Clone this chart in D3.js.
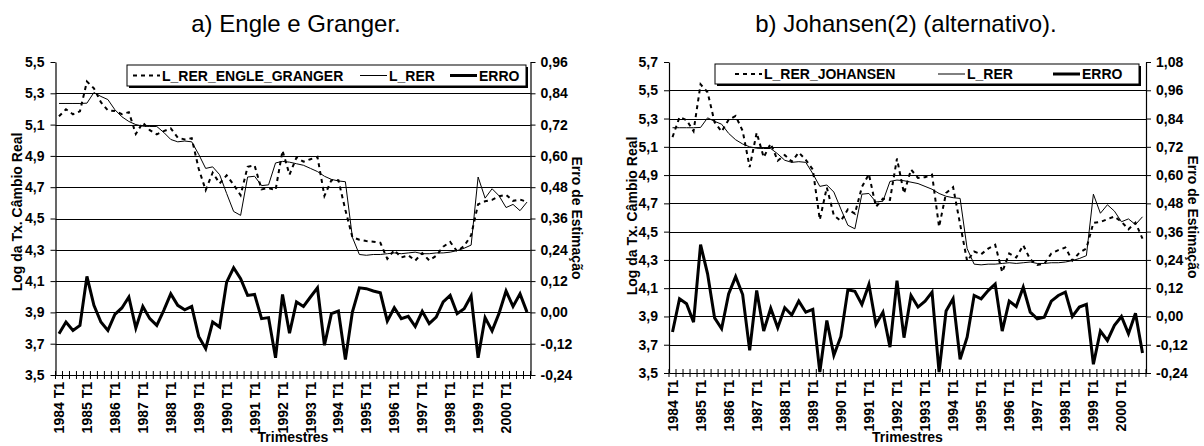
<!DOCTYPE html>
<html>
<head>
<meta charset="utf-8">
<script src="https://cdn.jsdelivr.net/npm/d3@7"></script>
<style>
  body { margin: 0; background: #fff; }
  text { font-family: "Liberation Sans", Arial, sans-serif; }
</style>
</head>
<body>
<script>
// window size
var width = 1204,
    height = 446;

// categories: quarters 1984 T1 .. 2000 T4
var years = [1984, 1985, 1986, 1987, 1988, 1989, 1990, 1991, 1992,
             1993, 1994, 1995, 1996, 1997, 1998, 1999, 2000];
var quarterNames = ["T1", "T2", "T3", "T4"];
var categories = years.flatMap(function (y) {
    return quarterNames.map(function (q) { return y + " " + q; });
});

// labelled categories on the x axis
var xLabels = ["1984 T1", "1985 T1", "1986 T1", "1987 T1", "1988 T1", "1989 T1",
               "1990 T1", "1991 T1", "1992 T1", "1993 T1", "1994 T1", "1995 T1",
               "1996 T1", "1997 T1", "1998 T1", "1999 T1", "2000 T1"];

// log of the real exchange rate (same in both panels)
var lRer = [5.235, 5.235, 5.235, 5.235, 5.237, 5.305, 5.28, 5.26, 5.195, 5.15,
            5.12, 5.10, 5.09, 5.088, 5.088, 5.05, 5.005, 4.99, 4.995, 4.99,
            4.91, 4.82, 4.83, 4.78, 4.66, 4.545, 4.52, 4.765, 4.77, 4.71,
            4.715, 4.855, 4.865, 4.86, 4.85, 4.84, 4.82, 4.80, 4.77, 4.75,
            4.74, 4.735, 4.38, 4.27, 4.265, 4.27, 4.27, 4.275, 4.28, 4.275,
            4.28, 4.285, 4.275, 4.275, 4.28, 4.28, 4.285, 4.295, 4.31, 4.33,
            4.765, 4.63, 4.69, 4.645, 4.57, 4.59, 4.55, 4.605];

// panel a: Engle-Granger fitted value and estimation error
var fitEngle = [5.153, 5.198, 5.166, 5.185, 5.375, 5.332, 5.243, 5.191, 5.187, 5.167,
                5.179, 5.04, 5.113, 5.064, 5.038, 5.058, 5.076, 5.017, 5.005, 5.013,
                4.818, 4.681, 4.793, 4.724, 4.776, 4.716, 4.649, 4.83, 4.839, 4.686,
                4.695, 4.681, 4.934, 4.78, 4.89, 4.863, 4.879, 4.894, 4.644, 4.745,
                4.745, 4.554, 4.381, 4.364, 4.356, 4.352, 4.345, 4.242, 4.298, 4.251,
                4.265, 4.231, 4.279, 4.232, 4.262, 4.32, 4.35, 4.29, 4.324, 4.393,
                4.591, 4.61, 4.619, 4.642, 4.652, 4.613, 4.621, 4.606];
var errEngle = [-0.082, -0.037, -0.069, -0.05, 0.138, 0.027, -0.037, -0.069, -0.008, 0.017,
                0.059, -0.06, 0.023, -0.024, -0.05, 0.008, 0.071, 0.027, 0.01, 0.023,
                -0.092, -0.139, -0.037, -0.056, 0.116, 0.171, 0.129, 0.065, 0.069, -0.024,
                -0.02, -0.174, 0.069, -0.08, 0.04, 0.023, 0.059, 0.094, -0.126, -0.005,
                0.005, -0.181, 0.001, 0.094, 0.091, 0.082, 0.075, -0.033, 0.018, -0.024,
                -0.015, -0.054, 0.004, -0.043, -0.018, 0.04, 0.065, -0.005, 0.014, 0.063,
                -0.174, -0.02, -0.071, -0.003, 0.082, 0.023, 0.071, 0.001];

// panel b: Johansen fitted value and estimation error
var fitJohansen = [5.169, 5.31, 5.289, 5.211, 5.542, 5.486, 5.274, 5.208, 5.291, 5.319,
                   5.213, 4.956, 5.2, 5.026, 5.123, 5.002, 5.042, 4.996, 5.06, 5.008,
                   4.94, 4.584, 4.813, 4.615, 4.575, 4.658, 4.627, 4.816, 4.906, 4.676,
                   4.733, 4.725, 5.017, 4.77, 4.939, 4.88, 4.885, 4.903, 4.534, 4.773,
                   4.815, 4.553, 4.292, 4.359, 4.34, 4.38, 4.408, 4.213, 4.345, 4.317,
                   4.404, 4.303, 4.265, 4.272, 4.345, 4.369, 4.388, 4.295, 4.35, 4.381,
                   4.562, 4.568, 4.588, 4.607, 4.57, 4.517, 4.564, 4.45];
var errJohansen = [-0.066, 0.075, 0.054, -0.024, 0.305, 0.181, -0.006, -0.052, 0.096, 0.169,
                   0.093, -0.144, 0.11, -0.062, 0.035, -0.048, 0.037, 0.006, 0.065, 0.018,
                   0.03, -0.236, -0.017, -0.165, -0.085, 0.113, 0.107, 0.051, 0.136, -0.034,
                   0.018, -0.13, 0.152, -0.09, 0.089, 0.04, 0.065, 0.103, -0.236, 0.023,
                   0.075, -0.182, -0.088, 0.089, 0.075, 0.11, 0.138, -0.062, 0.065, 0.042,
                   0.124, 0.018, -0.01, -0.003, 0.065, 0.089, 0.103, 0.0, 0.04, 0.051,
                   -0.203, -0.062, -0.102, -0.038, 0.0, -0.073, 0.014, -0.155];

// axis ticks
var leftTicksA = [3.5, 3.7, 3.9, 4.1, 4.3, 4.5, 4.7, 4.9, 5.1, 5.3, 5.5];
var rightTicksA = [-0.24, -0.12, 0.00, 0.12, 0.24, 0.36, 0.48, 0.60, 0.72, 0.84, 0.96];
var leftTicksB = [3.5, 3.7, 3.9, 4.1, 4.3, 4.5, 4.7, 4.9, 5.1, 5.3, 5.5, 5.7];
var rightTicksB = [-0.24, -0.12, 0.00, 0.12, 0.24, 0.36, 0.48, 0.60, 0.72, 0.84, 0.96, 1.08];

// portuguese number format (comma decimal, plain hyphen minus)
var ptLocale = d3.formatLocale({decimal: ",", thousands: ".", grouping: [3],
                                currency: ["R$", ""], minus: "-"});
var fmt1 = ptLocale.format(".1f"),
    fmt2 = ptLocale.format(".2f");

var svg = d3.select("body")
    .append("svg")
    .attr("width", width)
    .attr("height", height)
    .style("display", "block");

// draw one panel
function drawPanel(p) {
    var g = svg.append("g");

    var x = d3.scaleBand()
        .domain(categories)
        .range([p.left, p.right])
        .padding(0);
    var yL = d3.scaleLinear()
        .domain([p.leftTicks[0], p.leftTicks[p.leftTicks.length - 1]])
        .range([p.bottom, p.top]);
    var yR = d3.scaleLinear()
        .domain([p.rightTicks[0], p.rightTicks[p.rightTicks.length - 1]])
        .range([p.bottom, p.top]);
    var cx = function (i) { return x(categories[i]) + x.bandwidth() / 2; };

    // title
    g.append("text")
        .attr("x", p.titleX)
        .attr("y", 32)
        .attr("text-anchor", "middle")
        .style("font-size", "24px")
        .text(p.title);

    // horizontal gridlines (not on the top tick)
    g.append("g")
        .selectAll("line")
        .data(p.leftTicks.slice(1, -1))
        .enter()
        .append("line")
        .attr("x1", p.left)
        .attr("x2", p.right)
        .attr("y1", function (d) { return Math.round(yL(d)) + 0.5; })
        .attr("y2", function (d) { return Math.round(yL(d)) + 0.5; })
        .attr("stroke", "#000")
        .attr("stroke-width", 1);

    // left axis
    var axL = g.append("g")
        .attr("transform", "translate(" + p.left + ",0)")
        .call(d3.axisLeft(yL).tickValues(p.leftTicks).tickFormat(fmt1)
            .tickSize(5).tickSizeOuter(0).tickPadding(6));
    // right axis
    var axR = g.append("g")
        .attr("transform", "translate(" + p.right + ",0)")
        .call(d3.axisRight(yR).tickValues(p.rightTicks).tickFormat(fmt2)
            .tickSize(5).tickSizeOuter(0).tickPadding(5));
    // bottom axis, labels only every 4 quarters
    var axB = g.append("g")
        .attr("transform", "translate(0," + p.bottom + ")")
        .call(d3.axisBottom(x).tickValues(xLabels).tickSize(0).tickSizeOuter(0));
    axB.selectAll("text")
        .attr("transform", "rotate(-90)")
        .attr("text-anchor", "end")
        .attr("x", -7)
        .attr("y", 0)
        .attr("dy", "0.36em");

    [axL, axR, axB].forEach(function (ax) {
        ax.selectAll("text")
            .style("font-size", "14px")
            .style("font-weight", "bold")
            .attr("fill", "#000");
        ax.selectAll("line, path").attr("stroke", "#000");
        ax.select(".domain").attr("stroke-width", 1.2);
    });

    // cross tick marks between quarters
    g.append("g")
        .selectAll("line")
        .data(categories.concat(["end"]))
        .enter()
        .append("line")
        .attr("x1", function (d) { return d === "end" ? p.right : x(d); })
        .attr("x2", function (d) { return d === "end" ? p.right : x(d); })
        .attr("y1", p.bottom - 4)
        .attr("y2", p.bottom + 4)
        .attr("stroke", "#000");

    // axis titles
    g.append("text")
        .attr("transform", "translate(" + p.leftTitleX + "," + p.leftTitleY + ") rotate(-90)")
        .attr("text-anchor", "middle")
        .attr("dy", "0.35em")
        .style("font-size", "14px")
        .style("font-weight", "bold")
        .text("Log da Tx. Câmbio Real");
    g.append("text")
        .attr("transform", "translate(" + p.rightTitleX + "," + p.rightTitleY + ") rotate(90)")
        .attr("text-anchor", "middle")
        .attr("dy", "0.35em")
        .style("font-size", "14px")
        .style("font-weight", "bold")
        .text("Erro de Estimação");
    g.append("text")
        .attr("x", (p.left + p.right) / 2)
        .attr("y", 442)
        .attr("text-anchor", "middle")
        .style("font-size", "14px")
        .style("font-weight", "bold")
        .text("Trimestres");

    // series lines
    var lineL = d3.line()
        .x(function (d, i) { return cx(i); })
        .y(function (d) { return yL(d); });
    var lineR = d3.line()
        .x(function (d, i) { return cx(i); })
        .y(function (d) { return yR(d); });

    g.append("path")
        .attr("d", lineR(p.err))
        .attr("fill", "none")
        .attr("stroke", "#000")
        .attr("stroke-width", 3)
        .attr("stroke-linejoin", "miter");
    g.append("path")
        .attr("d", lineL(lRer))
        .attr("fill", "none")
        .attr("stroke", "#000")
        .attr("stroke-width", 1);
    g.append("path")
        .attr("d", lineL(p.fit))
        .attr("fill", "none")
        .attr("stroke", "#000")
        .attr("stroke-width", 2)
        .attr("stroke-dasharray", "4,4");

    // legend box with shadow
    var lg = p.legend;
    g.append("rect")
        .attr("x", lg.x + 2).attr("y", lg.y + 2)
        .attr("width", lg.w).attr("height", lg.h)
        .attr("fill", "#000");
    g.append("rect")
        .attr("x", lg.x).attr("y", lg.y)
        .attr("width", lg.w).attr("height", lg.h)
        .attr("fill", "#fff")
        .attr("stroke", "#000");

    var items = [
        {label: p.fitName, x: lg.items[0], width: 2, dash: "4,4"},
        {label: "L_RER", x: lg.items[1], width: 1, dash: null},
        {label: "ERRO", x: lg.items[2], width: 3, dash: null}
    ];
    var ly = lg.y + lg.h / 2;
    items.forEach(function (it) {
        g.append("line")
            .attr("x1", it.x).attr("x2", it.x + 27)
            .attr("y1", ly).attr("y2", ly)
            .attr("stroke", "#000")
            .attr("stroke-width", it.width)
            .attr("stroke-dasharray", it.dash);
        g.append("text")
            .attr("x", it.x + 29)
            .attr("y", ly)
            .attr("dy", "0.36em")
            .style("font-size", "14px")
            .style("font-weight", "bold")
            .text(it.label);
    });
}

drawPanel({
    title: "a) Engle e Granger.", titleX: 296,
    left: 55.5, right: 530.5, top: 62, bottom: 375,
    leftTicks: leftTicksA, rightTicks: rightTicksA,
    fit: fitEngle, err: errEngle, fitName: "L_RER_ENGLE_GRANGER",
    leftTitleX: 17, leftTitleY: 212, rightTitleX: 577, rightTitleY: 218,
    legend: {x: 127, y: 65, w: 399, h: 21, items: [133, 360, 450]}
});

drawPanel({
    title: "b) Johansen(2) (alternativo).", titleX: 906,
    left: 669, right: 1146, top: 62, bottom: 373,
    leftTicks: leftTicksB, rightTicks: rightTicksB,
    fit: fitJohansen, err: errJohansen, fitName: "L_RER_JOHANSEN",
    leftTitleX: 632, leftTitleY: 216, rightTitleX: 1193, rightTitleY: 217,
    legend: {x: 715, y: 64, w: 424, h: 20, items: [735, 938, 1053]}
});
</script>
</body>
</html>
